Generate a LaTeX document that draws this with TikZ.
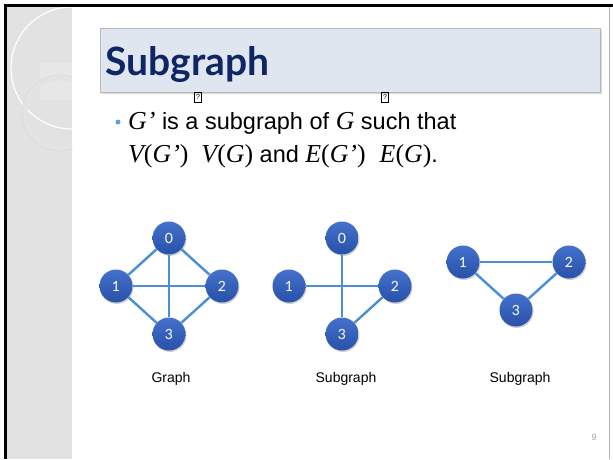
\documentclass[tikz,border=0pt]{standalone}
\usepackage{fontspec}
\setmainfont{Liberation Sans}
\newfontfamily\titlefont{Lato}
\newfontfamily\mathfont[Scale=1.1]{Liberation Serif}
\usetikzlibrary{shadows, positioning}

\definecolor{navy}{RGB}{14,38,100}
\definecolor{vtxbottom}{RGB}{40,80,168}
\definecolor{vtxtop}{RGB}{68,114,204}
\definecolor{edgeblue}{RGB}{74,143,212}
\definecolor{titlebg}{RGB}{223,230,239}
\definecolor{stripgray}{RGB}{226,226,226}

\newcommand{\mv}[1]{{\mathfont\itshape #1}}
\newcommand{\mset}[2]{\mv{#1}{\mathfont(}\mv{#2}{\mathfont)}}

\begin{document}
\begin{tikzpicture}[x=1pt, y=-1pt,
    vertex/.style={circle, minimum size=33pt, inner sep=0pt, top color=vtxtop, bottom color=vtxbottom, text=white, font=\titlefont\fontsize{14}{14}\selectfont, drop shadow={opacity=0.35, shadow xshift=1pt, shadow yshift=-1.5pt}},
    link/.style={draw=edgeblue, line width=2.4pt},
    caption/.style={font=\fontsize{14}{16}\selectfont},
    body/.style={anchor=base west, inner sep=0pt, font=\fontsize{23.5}{26}\selectfont},
    missing/.style={draw, line width=0.4pt, inner sep=0pt, minimum width=7pt, minimum height=10pt, font=\fontsize{7}{7}\selectfont}
]

\useasboundingbox (0,0) rectangle (613,459);
\fill[white] (0,0) rectangle (613,459);

% Frame and side strip
\fill[stripgray] (7,7) rectangle (72,459);
\begin{scope}
    \clip (7,7) rectangle (72,459);
    \draw[white, line width=1.2pt] (72,68) circle (61);
    \fill[white, opacity=0.2] (40,63) rectangle (72,100);
    \draw[gray!22, line width=5pt] (60,113) circle (35);
    \draw[white!70!gray, line width=0.6pt] (60,113) circle (38);
\end{scope}
\fill[black] (4,4) rectangle (613,7);
\fill[black] (4,4) rectangle (7,459);
\draw[gray!60, line width=1pt] (609,7) -- (609,459);

% Title
\node (titlebox) [anchor=north west, fill=titlebg, draw=gray!55, line width=1pt, minimum width=500pt, minimum height=64pt, drop shadow={opacity=0.3, shadow xshift=1.5pt, shadow yshift=-1.5pt}] at (100,28) {};
\node (title) [anchor=base west, inner sep=0pt, text=navy, font=\titlefont\bfseries\fontsize{39}{42}\selectfont] at (105,75) {Subgraph};

% Bullet text
\node (dot) [circle, fill=edgeblue!85, minimum size=5pt, inner sep=0pt] at (118,122) {};
\node (line1) [body] at (128,129) {\mv{G’} is a subgraph of \mv{G} such that};
\node (line2) [body] at (128,162) {\mset{V}{G’}\hspace{13pt}\mset{V}{G} and \mset{E}{G’}\hspace{14pt}\mset{E}{G}.};
\node (miss1) [missing] at (198,97) {?};
\node (miss2) [missing] at (385,97) {?};

% Graph
\node (g0) [vertex] at (169,238) {0};
\node (g1) [vertex] at (116,286) {1};
\node (g2) [vertex] at (222,286) {2};
\node (g3) [vertex] at (169,334) {3};
\draw [link] (g0) -- (g1);
\draw [link] (g0) -- (g2);
\draw [link] (g0) -- (g3);
\draw [link] (g1) -- (g2);
\draw [link] (g1) -- (g3);
\draw [link] (g2) -- (g3);

% First subgraph
\node (s0) [vertex] at (342,238) {0};
\node (s1) [vertex] at (289,286) {1};
\node (s2) [vertex] at (395,286) {2};
\node (s3) [vertex] at (342,334) {3};
\draw [link] (s0) -- (s3);
\draw [link] (s1) -- (s2);
\draw [link] (s2) -- (s3);

% Second subgraph
\node (t1) [vertex] at (463,262) {1};
\node (t2) [vertex] at (569,262) {2};
\node (t3) [vertex] at (516,310) {3};
\draw [link] (t1) -- (t2);
\draw [link] (t1) -- (t3);
\draw [link] (t2) -- (t3);

% Captions
\node (capg) [caption] at (171,379) {Graph};
\node (caps) [caption] at (346,379) {Subgraph};
\node (capt) [caption] at (520,379) {Subgraph};

\node (pagenum) [text=gray!70, font=\fontsize{9}{9}\selectfont] at (594,437) {9};

\end{tikzpicture}
\end{document}
